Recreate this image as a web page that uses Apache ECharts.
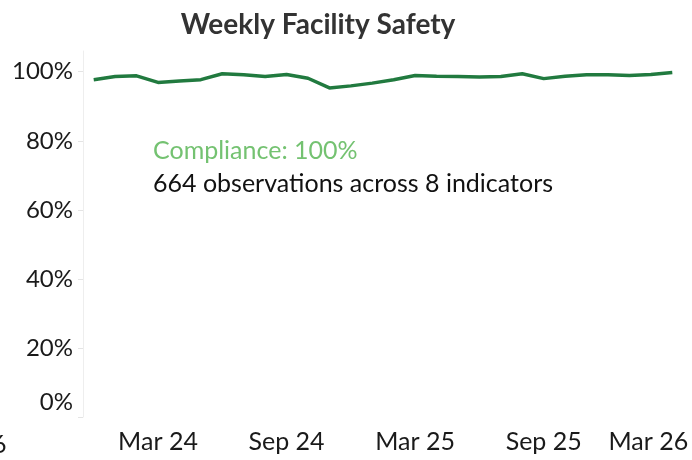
<!DOCTYPE html>
<html>
<head>
<meta charset="utf-8">
<script src="https://cdn.jsdelivr.net/npm/echarts@6/dist/echarts.min.js"></script>
<style>
  html, body { margin: 0; padding: 0; background: #fff; }
  #chart { width: 692px; height: 460px; }
</style>
</head>
<body>
<div id="chart"></div>
<script>
// monthly points, Dec 23 .. Mar 26
var months = [
  'Dec 23', 'Jan 24', 'Feb 24', 'Mar 24', 'Apr 24', 'May 24', 'Jun 24',
  'Jul 24', 'Aug 24', 'Sep 24', 'Oct 24', 'Nov 24', 'Dec 24', 'Jan 25',
  'Feb 25', 'Mar 25', 'Apr 25', 'May 25', 'Jun 25', 'Jul 25', 'Aug 25',
  'Sep 25', 'Oct 25', 'Nov 25', 'Dec 25', 'Jan 26', 'Feb 26', 'Mar 26'
];
var compliance = [
  97.7, 98.6, 98.8, 96.9, 97.3, 97.7, 99.4,
  99.1, 98.6, 99.2, 98.1, 95.3, 95.9, 96.7,
  97.7, 98.9, 98.7, 98.6, 98.5, 98.6, 99.4,
  98.0, 98.7, 99.1, 99.1, 98.9, 99.2, 99.8
];
var shownMonths = ['Mar 24', 'Sep 24', 'Mar 25', 'Sep 25', 'Mar 26'];
var yTicks = [0, 20, 40, 60, 80, 100];

var chart = echarts.init(document.getElementById('chart'));
var font = 'Lato';
var ink = '#1a1a1a';

chart.setOption({
  animation: false,
  title: {
    text: 'Weekly Facility Safety',
    left: 313, top: 6, textAlign: 'center',
    textStyle: {fontFamily: font, fontWeight: 'bold', fontSize: 28, color: '#333'}
  },
  grid: {left: 83, right: 9, top: 51, bottom: 43, containLabel: false},
  xAxis: {
    type: 'category',
    data: months,
    boundaryGap: true,
    axisLine: {show: false},
    axisTick: {show: false},
    axisLabel: {
      interval: 0,
      margin: 12,
      fontFamily: font, fontSize: 25, color: ink,
      formatter: function(v) {
        if (shownMonths.indexOf(v) < 0) return '';
        // last label is pulled in so it stays inside the canvas
        return v === 'Mar 26' ? '{last|' + v + '}' : v;
      },
      rich: {
        last: {fontFamily: font, fontSize: 25, color: ink, padding: [0, 48, 0, 0]}
      }
    }
  },
  yAxis: {
    type: 'value',
    min: 0, max: 106,
    splitLine: {show: false},
    axisLine: {show: true, lineStyle: {color: '#eeeeee', width: 1}},
    axisTick: {show: true, length: 5, customValues: yTicks, lineStyle: {color: '#e4e4e4'}},
    axisLabel: {
      customValues: yTicks,
      margin: 10,
      fontFamily: font, fontSize: 24, color: ink,
      formatter: function(v) {
        return v === 0 ? '{zero|0%}' : v + '%';
      },
      rich: {
        zero: {fontFamily: font, fontSize: 24, color: ink, padding: [0, 0, 30, 0]}
      }
    }
  },
  series: [{
    type: 'line',
    data: compliance,
    symbol: 'none',
    lineStyle: {color: '#217a3f', width: 3.5},
    z: 3
  }],
  graphic: [
    {type: 'text', left: 153, top: 138,
      style: {text: 'Compliance: 100%', fill: '#74c271', font: '25px Lato'}},
    {type: 'text', left: 153, top: 171,
      style: {text: '664 observations across 8 indicators', fill: '#111', font: '25px Lato'}},
    {type: 'text', left: -8, top: 432,
      style: {text: '6', fill: ink, font: '25px Lato'}}
  ]
});
</script>
</body>
</html>
